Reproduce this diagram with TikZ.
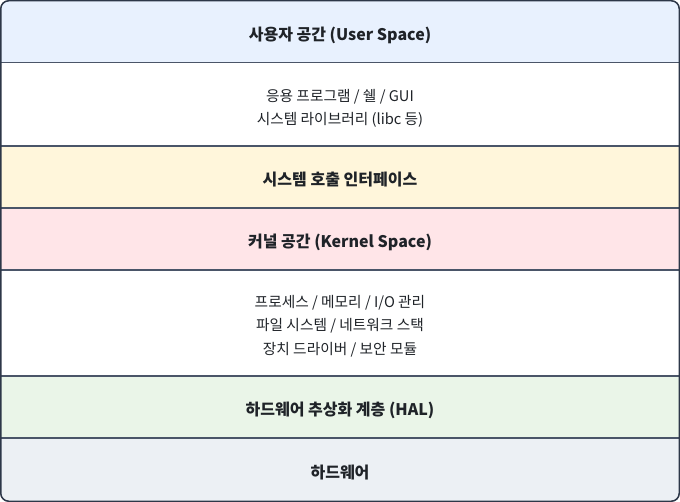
\documentclass[tikz,border=0pt]{standalone}
\usepackage{fontspec}
\setmainfont{Noto Sans CJK KR}
\usetikzlibrary{positioning}

\definecolor{edge}{HTML}{2D3748}
\definecolor{sepline}{HTML}{4A5568}
\definecolor{userbg}{HTML}{E8F1FE}
\definecolor{callbg}{HTML}{FFF6DB}
\definecolor{kernbg}{HTML}{FFE5E8}
\definecolor{halbg}{HTML}{EAF5E8}
\definecolor{hwbg}{HTML}{ECF0F4}
\definecolor{txt}{HTML}{1F2328}

\tikzset{
  band/.style={minimum width=678pt, inner sep=0pt, outer sep=0pt, anchor=north, text=txt},
  head/.style={band, minimum height=62pt, text height=17.5pt, text depth=0.2pt,
    font=\fontsize{16}{19}\selectfont\bfseries},
  body/.style={band, align=center, font=\fontsize{14.7}{23.5}\selectfont},
  sep/.style={draw=sepline, line width=1.2pt}
}

\begin{document}
\begin{tikzpicture}[x=1pt,y=1pt]
  \useasboundingbox (0,0) rectangle (680,-502);

  \begin{scope}
    \clip[rounded corners=8pt] (0.75,-0.75) rectangle (679.25,-501.25);
    \node[head, fill=userbg] (user) at (340,-0.5) {사용자 공간 (User Space)};
    \node[body, fill=white, minimum height=83.5pt, text height=41pt, text depth=0pt,
      below=0pt of user] (apps)
      {응용 프로그램 / 쉘 / GUI\\시스템 라이브러리 (libc 등)};
    \node[head, fill=callbg, below=0pt of apps] (call) {시스템 호출 인터페이스};
    \node[head, fill=kernbg, below=0pt of call] (kern) {커널 공간 (Kernel Space)};
    \node[body, fill=white, minimum height=106pt, text height=63pt, text depth=0pt,
      below=0pt of kern] (subs)
      {프로세스 / 메모리 / I/O 관리\\파일 시스템 / 네트워크 스택\\장치 드라이버 / 보안 모듈};
    \node[head, fill=halbg, below=0pt of subs] (hal) {하드웨어 추상화 계층 (HAL)};
    \node[head, fill=hwbg, minimum height=64pt, below=0pt of hal] (hw) {하드웨어};

    % layer boundaries
    \foreach \n in {user,apps,call,kern,subs,hal}
      \draw[sep] (\n.south west) -- (\n.south east);
  \end{scope}

  \draw[edge, line width=1.5pt, rounded corners=8pt] (0.75,-0.75) rectangle (679.25,-501.25);
\end{tikzpicture}
\end{document}
